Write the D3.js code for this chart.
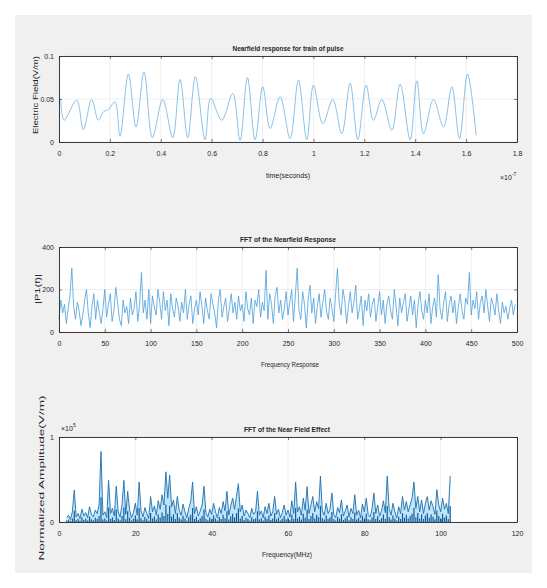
<!DOCTYPE html>
<html><head><meta charset="utf-8">
<script src="https://cdn.jsdelivr.net/npm/d3@7"></script>
<style>body{margin:0;background:#fff}svg{display:block}text{font-family:"Liberation Sans",Arial,sans-serif;fill:#262626}</style>
</head><body><svg id="c" width="547" height="588"></svg>
<script>
// ---- Panel 1: near-field time response (extrema), time in units of 1e-7 s
const p1Time = [0.0066,0.0197,0.0695,0.0957,0.1284,0.1547,0.1743,0.194,0.2202,0.2398,0.2726,0.3028,0.3342,0.367,0.4076,0.4469,0.4758,0.5059,0.536,0.574,0.5963,0.6396,0.6828,0.7117,0.7405,0.7706,0.8008,0.8296,0.8689,0.9083,0.941,0.9738,1.0,1.0367,1.076,1.1114,1.1442,1.1743,1.207,1.2359,1.2687,1.308,1.3408,1.3801,1.4063,1.4325,1.4718,1.5111,1.5439,1.574,1.6055,1.6396];
const p1Value = [0.0486,0.0253,0.0486,0.0144,0.0494,0.0253,0.035,0.0377,0.0467,0.0066,0.079,0.0175,0.0817,0.0051,0.0494,0.0051,0.0728,0.0051,0.0759,0.0027,0.0506,0.0253,0.0564,0.0019,0.0751,0.0027,0.0642,0.0156,0.0525,0.0039,0.072,0.0027,0.0661,0.0214,0.0494,0.0097,0.0681,0.0027,0.0661,0.0253,0.0494,0.0136,0.0673,0.0027,0.0712,0.0097,0.0494,0.0175,0.0642,0.0039,0.079,0.0078];
const p1XTicks = [0,0.2,0.4,0.6,0.8,1,1.2,1.4,1.6,1.8];
const p1XTickLabels = ["0","0.2","0.4","0.6","0.8","1","1.2","1.4","1.6","1.8"];
const p1YTicks = [0,0.05,0.1];
const p1YTickLabels = ["0","0.05","0.1"];

// ---- Panel 2: FFT of the nearfield response, bins 0..498 step 2
const p2Values = [60,150,90,130,40,110,170,300,120,60,140,100,30,80,150,200,90,20,120,180,60,150,90,40,110,
200,70,130,180,50,100,210,140,60,30,150,90,120,40,160,80,110,190,50,130,280,90,150,60,200,
40,170,120,80,200,140,60,190,100,150,30,180,110,70,160,120,50,140,90,200,60,130,170,40,110,
150,80,190,120,40,160,100,60,180,130,90,20,150,200,70,120,160,50,110,180,90,140,60,170,100,
130,50,190,110,80,160,40,150,120,200,70,140,100,290,60,180,130,40,170,210,90,150,60,110,190,
80,140,200,50,170,300,100,60,190,130,20,150,220,90,160,40,120,180,70,140,200,100,60,160,110,
50,180,300,130,80,200,150,40,120,190,90,140,220,60,110,170,30,150,100,180,70,130,160,50,120,
190,80,150,40,130,170,100,60,200,120,30,160,90,140,180,50,110,170,80,150,20,130,190,100,60,
150,90,180,40,120,160,70,270,110,60,140,190,50,130,170,90,150,40,120,180,100,60,160,130,280,
80,150,110,190,60,140,170,90,200,120,50,160,130,80,180,100,40,140,90,120,60,110,150,80,130];
const p2Step = 2;
const p2XTicks = [0,50,100,150,200,250,300,350,400,450,500];
const p2YTicks = [0,200,400];

// ---- Panel 3: FFT of the near field effect (x1e5), frequency 2..102.5 MHz step 0.5
const p3Start = 2, p3Step = 0.5;
const p3Values = [0.05,0.08,0.03,0.12,0.375,0.06,0.1,0.04,0.15,0.07,0.11,0.05,0.18,0.09,0.06,0.14,0.1,0.2,0.83,0.08,
0.12,0.05,0.49,0.1,0.16,0.07,0.42,0.12,0.06,0.2,0.49,0.09,0.36,0.14,0.05,0.11,0.22,0.08,0.47,0.13,
0.06,0.17,0.1,0.04,0.3,0.12,0.19,0.08,0.25,0.15,0.32,0.2,0.59,0.28,0.55,0.18,0.26,0.1,0.3,0.14,
0.08,0.21,0.12,0.05,0.16,0.24,0.47,0.1,0.18,0.07,0.13,0.2,0.42,0.11,0.06,0.15,0.09,0.22,0.12,0.05,
0.17,0.1,0.24,0.13,0.36,0.08,0.19,0.28,0.15,0.3,0.45,0.12,0.2,0.07,0.14,0.1,0.05,0.16,0.09,0.12,
0.36,0.08,0.13,0.05,0.18,0.1,0.22,0.07,0.12,0.3,0.09,0.15,0.05,0.11,0.2,0.08,0.14,0.06,0.25,0.1,
0.47,0.12,0.18,0.08,0.28,0.14,0.415,0.1,0.2,0.3,0.12,0.24,0.16,0.54,0.13,0.08,0.22,0.1,0.15,0.34,
0.09,0.05,0.17,0.11,0.26,0.07,0.13,0.2,0.06,0.16,0.1,0.32,0.08,0.14,0.05,0.21,0.12,0.28,0.09,0.06,
0.15,0.34,0.1,0.2,0.07,0.13,0.25,0.11,0.54,0.16,0.08,0.22,0.12,0.05,0.18,0.1,0.3,0.14,0.24,0.12,
0.2,0.28,0.47,0.16,0.3,0.12,0.26,0.1,0.22,0.3,0.14,0.25,0.18,0.09,0.38,0.2,0.12,0.28,0.15,0.22,
0.1,0.54];
const p3XTicks = [0,20,40,60,80,100,120];
const p3YTicks = [0,1];

const titles = ["Nearfield response for train of pulse","FFT of the Nearfield Response","FFT of the Near Field Effect"];
const xLabels = ["time(seconds)","Frequency Response","Frequency(MHz)"];
const yLabels = ["Electric Field(V/m)","|P1(f)|","Normalized Amplitude(V/m)"];

const svg = d3.select("#c");
svg.append("rect").attr("x",15).attr("y",15).attr("width",517).attr("height",558).attr("fill","#f0f0f0");

function txt(g,x,y,s,o){
  const t=g.append("text").attr("x",x).attr("y",y).text(s).attr("font-size",o.size||8)
    .attr("text-anchor",o.anchor||"middle");
  if(o.weight) t.attr("font-weight",o.weight);
  if(o.len){t.attr("textLength",o.len).attr("lengthAdjust","spacingAndGlyphs");}
  if(o.rot) t.attr("transform",`rotate(-90,${x},${y})`);
  return t;
}

function panel(cfg){
  const g = svg.append("g");
  const x = d3.scaleLinear().domain(cfg.xd).range([59,517]);
  const y = d3.scaleLinear().domain(cfg.yd).range([cfg.bottom,cfg.top]);
  g.append("rect").attr("x",59).attr("y",cfg.top).attr("width",458).attr("height",cfg.bottom-cfg.top).attr("fill","#fff");
  g.append("g").selectAll("line").data(cfg.xt).join("line")
    .attr("x1",d=>x(d)).attr("x2",d=>x(d)).attr("y1",cfg.top).attr("y2",cfg.bottom)
    .attr("stroke","#e3e3e3").attr("stroke-width",0.6);
  g.append("g").selectAll("line").data(cfg.yt).join("line")
    .attr("x1",59).attr("x2",517).attr("y1",d=>y(d)).attr("y2",d=>y(d))
    .attr("stroke","#e3e3e3").attr("stroke-width",0.6);
  cfg.draw(g,x,y);
  const ax = g.append("g").attr("transform",`translate(0,${cfg.bottom})`)
    .call(d3.axisBottom(x).tickValues(cfg.xt).tickFormat((d,i)=>cfg.xl[i]).tickSizeInner(-3).tickSizeOuter(0).tickPadding(9));
  const ax2 = g.append("g").attr("transform",`translate(0,${cfg.top})`)
    .call(d3.axisTop(x).tickValues(cfg.xt).tickFormat("").tickSizeInner(-3).tickSizeOuter(0));
  const ay = g.append("g").attr("transform",`translate(59,0)`)
    .call(d3.axisLeft(y).tickValues(cfg.yt).tickFormat((d,i)=>cfg.yl[i]).tickSizeInner(-3).tickSizeOuter(0).tickPadding(5));
  const ay2 = g.append("g").attr("transform",`translate(517,0)`)
    .call(d3.axisRight(y).tickValues(cfg.yt).tickFormat("").tickSizeInner(-3).tickSizeOuter(0));
  [ax,ax2,ay,ay2].forEach(a=>{
    a.selectAll("path").attr("stroke","#262626").attr("stroke-width",0.9);
    a.selectAll("line").attr("stroke","#262626").attr("stroke-width",0.6);
    a.selectAll("text").attr("font-size",7).attr("font-family","Liberation Sans, Arial").style("fill","#262626");
  });
  txt(g,cfg.tx,cfg.top-5,cfg.title,{size:8,weight:"bold",len:cfg.tlen});
  txt(g,cfg.xlx,cfg.bottom+cfg.xly,cfg.xlabel,{size:8,len:cfg.xlen});
  txt(g,cfg.ylx,cfg.yly,cfg.ylabel,{size:7,len:cfg.ylen,rot:true});
  return g;
}

// Panel 1
panel({xd:[0,1.8],yd:[0,0.1],top:56,bottom:142,xt:p1XTicks,xl:p1XTickLabels,yt:p1YTicks,yl:p1YTickLabels,
  title:titles[0],tx:288,tlen:111,xlabel:xLabels[0],xlx:288,xly:36,xlen:44,ylabel:yLabels[0],ylx:38,yly:95,ylen:78,
  draw:(g,x,y)=>{
    const pts=p1Time.map((t,i)=>[t,p1Value[i]]);
    g.append("path").datum(pts).attr("fill","none").attr("stroke","#6cb2e2").attr("stroke-width",0.8)
      .attr("d",d3.line().x(d=>x(d[0])).y(d=>y(d[1])).curve(d3.curveCatmullRom.alpha(0.5)));
  }});
svg.append("text").attr("x",500).attr("y",180).attr("font-size",7).text("×10").append("tspan").attr("dy",-4).attr("font-size",5).text("-7");

// Panel 2
panel({xd:[0,500],yd:[0,400],top:247,bottom:332,xt:p2XTicks,xl:p2XTicks.map(String),yt:p2YTicks,yl:p2YTicks.map(String),
  title:titles[1],tx:288,tlen:96,xlabel:xLabels[1],xlx:290,xly:35,xlen:58,ylabel:yLabels[1],ylx:40,yly:289,ylen:30,
  draw:(g,x,y)=>{
    const pts=p2Values.map((v,i)=>[i*p2Step,v]);
    g.append("path").datum(pts).attr("fill","none").attr("stroke","#4a9fda").attr("stroke-width",0.8)
      .attr("d",d3.line().x(d=>x(d[0])).y(d=>y(d[1])));
  }});

// Panel 3
panel({xd:[0,120],yd:[0,1],top:437,bottom:522,xt:p3XTicks,xl:p3XTicks.map(String),yt:p3YTicks,yl:p3YTicks.map(String),
  title:titles[2],tx:287,tlen:86,xlabel:xLabels[2],xlx:287,xly:35,xlen:50,ylabel:yLabels[2],ylx:44,yly:478,ylen:165,
  draw:(g,x,y)=>{
    const pts=p3Values.map((v,i)=>[p3Start+i*p3Step,v]);
    g.append("path").datum(pts).attr("fill","#8fcdf2").attr("fill-opacity",0.55)
      .attr("d",d3.area().x(d=>x(d[0])).y0(y(0)).y1(d=>y(d[1])));
    g.append("path").datum(pts).attr("fill","none").attr("stroke","#1a6fb0").attr("stroke-width",0.9)
      .attr("d",d3.line().x(d=>x(d[0])).y(d=>y(d[1])));
    g.append("g").selectAll("line").data(pts).join("line")
      .attr("x1",d=>x(d[0])).attr("x2",d=>x(d[0])).attr("y1",y(0)).attr("y2",d=>y(d[1]*0.35))
      .attr("stroke","#0d5e9e").attr("stroke-width",1.2);
  }});
svg.append("text").attr("x",61).attr("y",431).attr("font-size",7).text("×10").append("tspan").attr("dy",-4).attr("font-size",5).text("5");
</script></body></html>
